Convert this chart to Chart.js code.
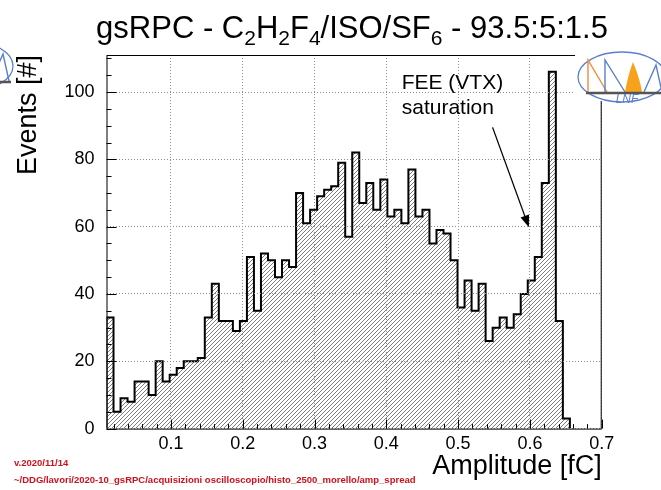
<!DOCTYPE html>
<html><head><meta charset="utf-8">
<script src="https://cdn.jsdelivr.net/npm/chart.js"></script>
<style>html,body{margin:0;padding:0;background:#fff;overflow:hidden;}</style>
</head><body>
<canvas id="histo" width="661" height="490"></canvas>
<script>
// ==================== DATA ====================
const BIN_LOW = 0.0102;
const BIN_WIDTH = 0.00978;
const counts = [33, 5, 9, 8, 14, 14, 10, 20, 14, 16, 18, 20, 20, 21, 33, 43, 32, 32, 29, 32,
                51, 35, 52, 50, 45, 50, 48, 70, 61, 65, 69, 71, 72, 79, 57, 82, 67, 73, 65, 74,
                63, 65, 61, 77, 63, 65, 55, 59, 58, 50, 36, 44, 35, 43, 26, 30, 33, 30, 34, 40,
                44, 51, 73, 106, 32, 3];
const xTicks = [0.1, 0.2, 0.3, 0.4, 0.5, 0.6, 0.7];
const yTicks = [0, 20, 40, 60, 80, 100];
const titleParts = [['gsRPC - C', 0], ['2', 1], ['H', 0], ['2', 1], ['F', 0], ['4', 1], ['/ISO/SF', 0], ['6', 1], [' - 93.5:5:1.5', 0]];
const noteLines = ['FEE (VTX)', 'saturation'];
const arrowFrom = { x: 0.548, y: 89.5 };
const arrowTo = { x: 0.5986, y: 59.8 };
const stampLines = ['v.2020/11/14', '~/DDG/lavori/2020-10_gsRPC/acquisizioni oscilloscopio/histo_2500_morello/amp_spread'];

const FONT = "'Liberation Sans', Arial, Helvetica, sans-serif";

// histogram outline points (left bin edges, stepped)
const histPoints = [{ x: BIN_LOW, y: 0 }];
counts.forEach((c, i) => histPoints.push({ x: BIN_LOW + i * BIN_WIDTH, y: c }));
histPoints.push({ x: BIN_LOW + counts.length * BIN_WIDTH, y: 0 });

const canvas = document.getElementById('histo');
const ctx = canvas.getContext('2d');

function makeHatch() {
    const c = document.createElement('canvas');
    c.width = 4; c.height = 4;
    const g = c.getContext('2d');
    g.strokeStyle = '#6e6e6e'; g.lineWidth = 0.9;
    g.beginPath();
    g.moveTo(0, 4); g.lineTo(4, 0);
    g.moveTo(-1, 1); g.lineTo(1, -1);
    g.moveTo(3, 5); g.lineTo(5, 3);
    g.stroke();
    return ctx.createPattern(c, 'repeat');
}

function drawLogo(g, cx, cy) {
    g.save();
    g.fillStyle = '#fff';
    g.beginPath(); g.ellipse(cx, cy, 44, 25, 0, 0, Math.PI * 2); g.fill();
    g.strokeStyle = '#5b7fd0'; g.lineWidth = 1.3; g.stroke();
    // orange triangle
    g.strokeStyle = '#f08a3c'; g.lineWidth = 1.4;
    g.beginPath(); g.moveTo(cx - 34, cy + 15); g.lineTo(cx - 34, cy - 17); g.lineTo(cx - 15, cy + 15); g.stroke();
    // blue triangle
    g.strokeStyle = '#5b7fd0';
    g.beginPath(); g.moveTo(cx - 17, cy + 15); g.lineTo(cx - 17, cy - 17); g.lineTo(cx + 3, cy + 15); g.stroke();
    // flame
    g.fillStyle = '#f7a21b';
    g.beginPath(); g.moveTo(cx + 3, cy + 15); g.quadraticCurveTo(cx + 6, cy - 2, cx + 11, cy - 15);
    g.quadraticCurveTo(cx + 18, cy + 2, cx + 20, cy + 15); g.closePath(); g.fill();
    g.strokeStyle = '#5b7fd0';
    g.beginPath(); g.moveTo(cx + 22, cy + 15); g.lineTo(cx + 34, cy - 12); g.lineTo(cx + 40, cy + 15); g.stroke();
    // base line
    g.strokeStyle = '#555'; g.lineWidth = 2.5;
    g.beginPath(); g.moveTo(cx - 36, cy + 16); g.lineTo(cx + 42, cy + 16); g.stroke();
    g.fillStyle = '#5b7fd0'; g.font = 'italic 12px ' + FONT; g.textAlign = 'center'; g.textBaseline = 'middle';
    g.fillText('LNF', cx + 5, cy + 23);
    g.restore();
}

const rootDecor = {
    id: 'rootDecor',
    afterDraw(chart) {
        const { ctx: g, chartArea: a, scales: { x, y } } = chart;
        g.save();
        // frame
        g.strokeStyle = '#000'; g.lineWidth = 1;
        g.strokeRect(a.left + 0.5, a.top + 0.5, a.right - a.left - 1, a.bottom - a.top);
        // inner ticks
        g.beginPath();
        for (let v = 0; v <= 110; v += 5) {
            const py = Math.round(y.getPixelForValue(v)) + 0.5;
            const len = v % 20 === 0 ? 10 : 5;
            g.moveTo(a.left, py); g.lineTo(a.left + len, py);
        }
        for (let i = 1; i <= 35; i++) {
            const px = Math.round(x.getPixelForValue(i / 50)) + 0.5;
            const len = i % 5 === 0 ? 9 : 4.5;
            g.moveTo(px, a.bottom); g.lineTo(px, a.bottom - len);
        }
        g.stroke();

        // annotation
        g.fillStyle = '#000'; g.font = '21px ' + FONT; g.textAlign = 'left'; g.textBaseline = 'alphabetic';
        g.fillText(noteLines[0], x.getPixelForValue(0.4214), y.getPixelForValue(101));
        g.fillText(noteLines[1], x.getPixelForValue(0.4214), y.getPixelForValue(93.6));
        const x0 = x.getPixelForValue(arrowFrom.x), y0 = y.getPixelForValue(arrowFrom.y);
        const x1 = x.getPixelForValue(arrowTo.x), y1 = y.getPixelForValue(arrowTo.y);
        const ang = Math.atan2(y1 - y0, x1 - x0);
        g.lineWidth = 1.3;
        g.beginPath(); g.moveTo(x0, y0); g.lineTo(x1 - 9 * Math.cos(ang), y1 - 9 * Math.sin(ang)); g.stroke();
        g.beginPath();
        g.moveTo(x1, y1);
        g.lineTo(x1 - 12 * Math.cos(ang) + 4.5 * Math.sin(ang), y1 - 12 * Math.sin(ang) - 4.5 * Math.cos(ang));
        g.lineTo(x1 - 12 * Math.cos(ang) - 4.5 * Math.sin(ang), y1 - 12 * Math.sin(ang) + 4.5 * Math.cos(ang));
        g.closePath(); g.fill();

        // title with subscripts
        const mainFont = '31px ' + FONT, subFont = '21px ' + FONT;
        let total = 0;
        titleParts.forEach(([t, s]) => { g.font = s ? subFont : mainFont; total += g.measureText(t).width; });
        let tx = 352 - total / 2;
        g.textAlign = 'left';
        titleParts.forEach(([t, s]) => {
            g.font = s ? subFont : mainFont;
            g.fillText(t, tx, s ? 45 : 38);
            tx += g.measureText(t).width;
        });

        // red stamp
        g.fillStyle = '#d0101a'; g.font = 'bold 9.5px ' + FONT;
        g.fillText(stampLines[0], 14, 466);
        g.fillText(stampLines[1], 14, 483);

        // logos
        g.fillStyle = '#fff';
        g.fillRect(575, 44, 86, 57);
        drawLogo(g, 622, 77);
        drawLogo(g, -31, 66);
        g.restore();
    }
};

new Chart(ctx, {
    type: 'line',
    data: {
        datasets: [{
            data: histPoints,
            stepped: 'before',
            borderColor: '#000',
            borderWidth: 2,
            backgroundColor: makeHatch(),
            fill: 'origin',
            pointRadius: 0,
            tension: 0
        }]
    },
    options: {
        responsive: false,
        animation: false,
        layout: { padding: { left: 0, right: 59.3, top: 55, bottom: 0 } },
        plugins: { legend: { display: false }, tooltip: { enabled: false } },
        scales: {
            x: {
                type: 'linear', min: BIN_LOW, max: 0.7,
                afterBuildTicks: s => { s.ticks = xTicks.map(v => ({ value: v })); },
                afterFit: s => { s.height = 61.4; },
                grid: { color: '#8c8c8c', lineWidth: 1, drawTicks: false, z: 1 },
                border: { display: false, dash: [1, 2] },
                ticks: { padding: 5, color: '#000', autoSkip: false, maxRotation: 0, font: { family: FONT, size: 18 }, callback: v => v.toFixed(1) },
                title: { display: true, text: 'Amplitude [fC]', align: 'end', color: '#000', font: { family: FONT, size: 27 }, padding: { top: 0, bottom: 7 } }
            },
            y: {
                type: 'linear', min: 0, max: 111,
                afterBuildTicks: s => { s.ticks = yTicks.map(v => ({ value: v })); },
                afterFit: s => { s.width = 106.5; },
                grid: { color: '#8c8c8c', lineWidth: 1, drawTicks: false, z: 1 },
                border: { display: false, dash: [1, 2] },
                ticks: { padding: 12, color: '#000', font: { family: FONT, size: 18 }, callback: v => String(v) },
                title: { display: true, text: 'Events [#]', align: 'end', color: '#000', font: { family: FONT, size: 27 }, padding: { top: 12, bottom: 0 } }
            }
        }
    },
    plugins: [rootDecor]
});
</script>
</body></html>
